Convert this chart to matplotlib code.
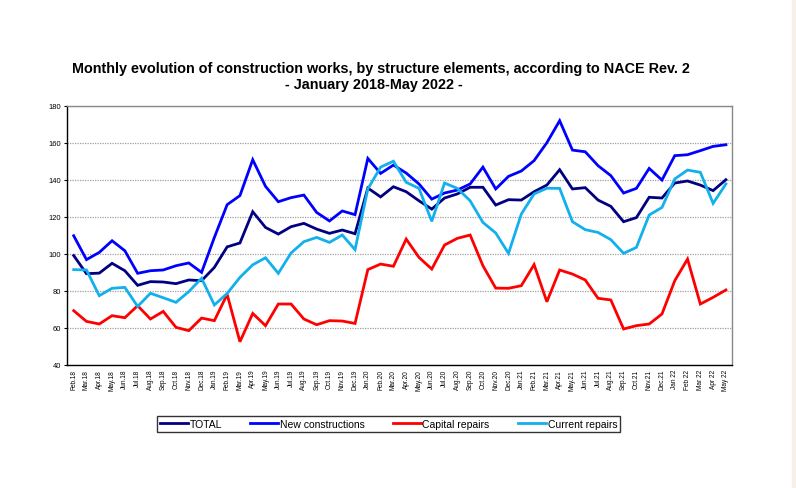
import matplotlib
matplotlib.use("Agg")
import matplotlib.pyplot as plt
import matplotlib.patches as mpatches

plt.rcParams['font.family'] = ['Liberation Sans', 'DejaVu Sans']

# months Feb 2018 .. May 2022
month_names = ["Jan", "Feb", "Mar", "Apr", "May", "Jun",
               "Jul", "Aug", "Sep", "Oct", "Nov", "Dec"]
labels = []
for yr in range(18, 23):
    for m in month_names:
        labels.append(m + "." + str(yr) if yr < 22 else m + " " + str(yr))
labels = labels[1:53]

total = [99, 89.2, 89.5, 94.8, 90.8, 82.9, 84.9, 84.7, 83.8, 85.8, 85.4, 92.6,
         103.7, 105.8, 122.7, 114.2, 110.6, 114.6, 116.4, 113.3, 111, 112.8, 110.8, 135.5,
         130.7, 136.2, 133.5, 128.6, 124.1, 130.1, 132.3, 135.9, 135.9, 126.3, 129.2, 129,
         133.5, 137.1, 145.4, 135, 135.7, 129, 125.6, 117.3, 119.5, 130.5, 130.1, 138.2,
         139.3, 137.1, 134.1, 140]
new_constr = [109.7, 96.8, 100.7, 107, 101.6, 89.4, 90.8, 91.2, 93.5, 95, 89.9, 108.8,
              126.5, 131.4, 150.8, 136.4, 128.1, 130.3, 131.7, 122.3, 117.7, 123.1, 121.1, 151.5,
              143.4, 147.9, 143.6, 137.7, 129.5, 132.8, 134.4, 137.7, 146.8, 135, 141.8, 144.7,
              150.3, 160, 171.9, 156, 155.1, 147.6, 142.2, 132.8, 135.3, 146.1, 139.8, 153,
              153.5, 155.7, 158, 158.9]
capital = [69.2, 63.4, 62, 66.5, 65.4, 71.9, 64.7, 68.8, 60.2, 58.4, 65.2, 63.8,
           78, 52.4, 67.7, 61.1, 72.8, 72.8, 64.7, 61.6, 63.8, 63.6, 62.3, 91.4,
           94.4, 93.2, 107.9, 98, 91.7, 104.7, 108.3, 110.1, 93.5, 81.4, 81.3, 82.7,
           94.1, 74, 91.2, 89, 85.8, 75.9, 75, 59.3, 61.1, 62, 67.4, 85.4,
           97.1, 72.8, 76.4, 80.4]
current = [91.4, 91.2, 77.3, 81.3, 81.8, 71.5, 78.6, 76.2, 73.7, 79.5, 86.7, 72.3,
           78.5, 87.2, 94, 97.8, 89.4, 100.4, 106.5, 108.8, 106.1, 110.1, 102.2, 135,
           146.8, 150, 138.6, 135.3, 117.5, 138.2, 135.3, 128.6, 116.9, 111.2, 100.2, 121.4,
           132.3, 135.4, 135.3, 117.3, 113, 111.5, 107.6, 100.2, 103.4, 120.9, 125, 140.4,
           145.2, 144, 127.2, 137.7]

series = [("TOTAL", total, "#000080"),
          ("New constructions", new_constr, "#0000ff"),
          ("Capital repairs", capital, "#ff0000"),
          ("Current repairs", current, "#12b0ec")]

fig = plt.figure(figsize=(7.96, 4.89), dpi=100)
ax = fig.add_axes([67.3 / 796, 1 - 365.7 / 489, 665 / 796, 259 / 489])

x = list(range(len(labels)))
for name, vals, col in series:
    ax.plot(x, vals, color=col, lw=2.0, label=name, solid_joinstyle='miter')

ax.set_xlim(-0.5, len(labels) - 0.5)
ax.set_ylim(40, 180)
ax.set_yticks(range(40, 181, 20))
ax.set_xticks(x)
ax.set_xticklabels(labels, rotation=90, fontsize=4.7)
ax.tick_params(axis='x', length=0, pad=3)
ax.tick_params(axis='y', labelsize=5.4, length=2.5, pad=2, width=0.8)
ax.yaxis.grid(True, linestyle=(0, (1, 1)), color='#a0a0a0', lw=0.9)
ax.set_axisbelow(True)
for s in ['left', 'bottom']:
    ax.spines[s].set_color('black')
    ax.spines[s].set_linewidth(1.0)
for s in ['top', 'right']:
    ax.spines[s].set_color('#888888')
    ax.spines[s].set_linewidth(1.0)

fig.text(381 / 796, 1 - 69 / 489,
         "Monthly evolution of construction works, by structure elements, according to NACE Rev. 2",
         ha='center', va='center', fontsize=10.4, fontweight='bold')
fig.text(374 / 796, 1 - 84.5 / 489, "- January 2018-May 2022 -",
         ha='center', va='center', fontsize=10.4, fontweight='bold')

leg = fig.legend(loc='center', bbox_to_anchor=(388.5 / 796, 1 - 425 / 489), ncol=4,
                 fontsize=7.5, frameon=True, fancybox=False, edgecolor='black',
                 handlelength=2.7, handletextpad=0.15, columnspacing=2.7,
                 borderpad=0.3, borderaxespad=0)
leg.get_frame().set_linewidth(1.0)

# beige page edge on the right
fig.add_artist(mpatches.Rectangle((792 / 796, 0), 4 / 796, 1, transform=fig.transFigure,
                                  color='#f8f0e6', zorder=0))

fig.savefig("out.png", dpi=100)
